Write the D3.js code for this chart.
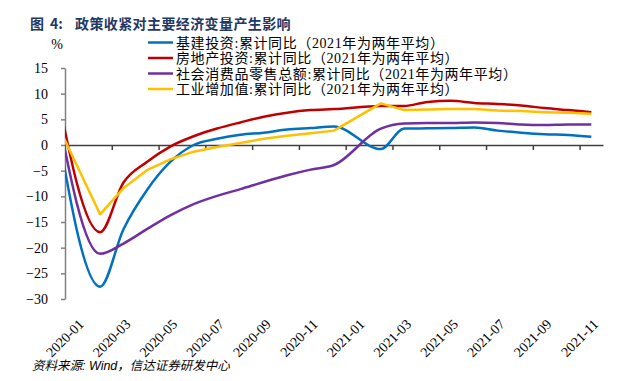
<!DOCTYPE html>
<html><head><meta charset="utf-8">
<script src="https://cdn.jsdelivr.net/npm/d3@7"></script>
<style>
body{margin:0;background:#fff;}
svg{display:block;}
</style></head>
<body>
<svg id="chart" width="630" height="381"></svg>
<script>
// ---- data ----
const months = ["2019-12","2020-02","2020-03","2020-04","2020-05","2020-06","2020-07","2020-08","2020-09","2020-10","2020-11","2020-12",
  "2021-02","2021-03","2021-04","2021-05","2021-06","2021-07","2021-08","2021-09","2021-10","2021-11"];
const infra    = [8.0,-27.6,-16.4,-8.8,-3.3,0.0,1.2,2.0,2.4,3.0,3.3,3.6, -0.8,3.2,3.25,3.3,3.4,2.8,2.4,2.1,1.95,1.6];
const realty   = [14.0,-17.0,-7.3,-3.3,-0.3,1.7,3.2,4.4,5.5,6.3,6.8,7.0, 7.6,7.6,8.4,8.6,8.2,8.0,7.7,7.2,6.8,6.4];
const retail   = [10.6,-21.2,-19.2,-16.4,-13.7,-11.5,-9.9,-8.6,-7.2,-5.9,-4.8,-3.9, 3.2,4.2,4.3,4.3,4.4,4.3,4.0,3.9,4.0,4.0];
const industry = [5.7,-13.5,-8.4,-4.9,-2.8,-1.3,-0.4,0.4,1.2,1.8,2.3,2.8, 8.1,6.8,6.9,7.0,7.0,6.7,6.6,6.4,6.3,6.1];
const seriesNames = ["基建投资:累计同比（2021年为两年平均）","房地产投资:累计同比（2021年为两年平均）",
  "社会消费品零售总额:累计同比（2021年为两年平均）","工业增加值:累计同比（2021年为两年平均）"];
const seriesColors = ["#0070C0","#C00000","#7030A0","#FFC000"];
const tickLabels = ["2020-01","2020-03","2020-05","2020-07","2020-09","2020-11","2021-01","2021-03","2021-05","2021-07","2021-09","2021-11"];
const yTicks = [-30,-25,-20,-15,-10,-5,0,5,10,15];
const titleParts = ["图", "4:", "政策收紧对主要经济变量产生影响"];
const sourceText = "资料来源: Wind，信达证券研发中心";

// ---- layout ----
const L = 65, R = 603, T = 68, B = 299;
const svg = d3.select("#chart");
const monthIdx = s => { const [yy, mm] = s.split("-").map(Number); return (yy - 2020) * 12 + (mm - 1); };
const x = d3.scaleLinear().domain([0, 23]).range([L, R]);
const y = d3.scaleLinear().domain([-30, 15]).range([B, T]);
const serif = "'Liberation Serif','Times New Roman','Noto Sans CJK SC',serif";

// title
const title = svg.append("text").attr("y", 29)
  .attr("font-family", "'Noto Sans CJK SC',sans-serif").attr("font-weight", "bold")
  .attr("font-size", 14).attr("fill", "#1F3864");
const titleX = [30, 50, 75];
titleParts.forEach((p, i) => title.append("tspan").attr("x", titleX[i]).text(p)
  .attr("letter-spacing", i === 2 ? 0.4 : 0));

// % unit
svg.append("text").attr("x", 57).attr("y", 49).attr("text-anchor", "middle").text("%")
  .attr("font-family", serif).attr("font-size", 14).attr("fill", "#000");

// y axis
const gy = svg.append("g").attr("transform", `translate(${L},0)`)
  .call(d3.axisLeft(y).tickValues(yTicks).tickSize(4).tickPadding(13).tickSizeOuter(0));
gy.select(".domain").attr("stroke", "#808080").attr("stroke-width", 1.5);
gy.selectAll(".tick line").attr("stroke", "#808080").attr("stroke-width", 1.5);
gy.selectAll(".tick text").attr("font-family", serif).attr("font-size", 14).attr("fill", "#000");

// x axis at zero line (ticks between categories every 2 months)
const gx = svg.append("g").attr("transform", `translate(0,${y(0)})`)
  .call(d3.axisBottom(x).tickValues(d3.range(2, 23, 2)).tickSize(5).tickFormat("").tickSizeOuter(0));
gx.select(".domain").attr("stroke", "#404040").attr("stroke-width", 1.5);
gx.selectAll(".tick line").attr("stroke", "#404040").attr("stroke-width", 1.5);

// x labels at bottom, category centers
const labelG = svg.append("g");
labelG.selectAll("text").data(tickLabels).enter().append("text")
  .attr("transform", d => `translate(${x(monthIdx(d) + 0.5) + 8},${B + 26}) rotate(-45)`)
  .attr("text-anchor", "end").text(d => d)
  .attr("font-family", serif).attr("font-size", 14).attr("fill", "#000");

// clip
svg.append("clipPath").attr("id", "plotclip").append("rect")
  .attr("x", L).attr("y", T - 20).attr("width", R - L).attr("height", B - T + 40);

const allSeries = [infra, realty, retail, industry];
const lines = svg.append("g").attr("clip-path", "url(#plotclip)");
allSeries.forEach((vals, i) => {
  const pts = months.map((m, j) => [x(monthIdx(m) + 0.5), y(vals[j])]);
  const curve = i === 3 ? d3.curveLinear : d3.curveMonotoneX;
  lines.append("path").attr("d", d3.line().curve(curve)(pts))
    .attr("fill", "none").attr("stroke", seriesColors[i]).attr("stroke-width", 2.5)
    .attr("stroke-linejoin", "round");
});

// legend
const legY = [42.5, 58, 73.5, 89];
seriesNames.forEach((n, i) => {
  svg.append("line").attr("x1", 148).attr("x2", 173).attr("y1", legY[i]).attr("y2", legY[i])
    .attr("stroke", seriesColors[i]).attr("stroke-width", 2.5);
  svg.append("text").attr("x", 176).attr("y", legY[i] + 5).text(n)
    .attr("font-family", serif).attr("font-size", 14).attr("fill", "#000").attr("letter-spacing", 0.6);
});

// source
svg.append("text").attr("x", 32).attr("y", 370).text(sourceText)
  .attr("font-family", "'Liberation Sans','Noto Sans CJK SC',sans-serif").attr("font-style", "italic")
  .attr("font-size", 12.5).attr("fill", "#000");
</script>
</body></html>
